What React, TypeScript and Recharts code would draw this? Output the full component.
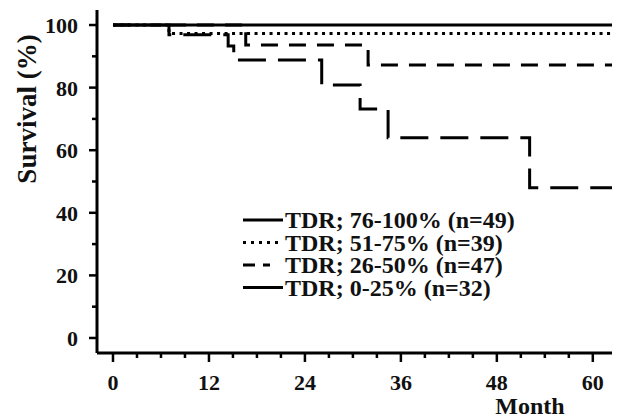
import React from 'react';
import { LineChart, Line, XAxis, YAxis, Legend } from 'recharts';

// Kaplan-Meier step data (months, survival %)
const months76 = [0, 62.4];
const surv76 = [100, 100];
const months51 = [0, 7, 62.4];
const surv51 = [100, 97.3, 97.3];
const months26 = [0, 16.6, 31.9, 62.4];
const surv26 = [100, 93.6, 87.2, 87.2];
const months0 = [0, 7, 14.4, 15.1, 26.1, 30.9, 34.4, 52.1, 62.4];
const surv0 = [100, 96.9, 93.3, 88.8, 80.8, 73.2, 64, 48, 48];

const seriesNames = [
  'TDR; 76-100% (n=49)',
  'TDR; 51-75% (n=39)',
  'TDR; 26-50% (n=47)',
  'TDR; 0-25% (n=32)',
];

const xTicks = [0, 3, 6, 9, 12, 15, 18, 21, 24, 27, 30, 33, 36, 39, 42, 45, 48, 51, 54, 57, 60];
const xMajor = [0, 12, 24, 36, 48, 60];
const yTicks = [0, 10, 20, 30, 40, 50, 60, 70, 80, 90, 100];
const yMajor = [0, 20, 40, 60, 80, 100];

const toRows = (t: number[], s: number[]) => t.map((v, i) => ({ t: v, s: s[i] }));

const FONT = 'Liberation Serif, Tinos, Times New Roman, Times, serif';

const styles = [
  { dash: undefined as string | undefined, legendDash: undefined as string | undefined, legendLen: 40 },
  { dash: '3 4.5', legendDash: '3 5', legendLen: 40 },
  { dash: '17 11', legendDash: '12 8', legendLen: 27 },
  { dash: '28 12', legendDash: undefined, legendLen: 40 },
];

const XTick = (props: any) => {
  const { x, y, payload } = props;
  const major = xMajor.includes(payload.value);
  return (
    <g>
      <line x1={x} y1={y} x2={x} y2={y + (major ? 9 : 5)} stroke="#000" strokeWidth={2.5} />
      {major && (
        <text x={x} y={y + 37} textAnchor="middle" style={{ fontFamily: FONT }} fontWeight="bold" fontSize={22} fill="#111">
          {payload.value}
        </text>
      )}
    </g>
  );
};

const YTick = (props: any) => {
  const { x, y, payload } = props;
  const major = yMajor.includes(payload.value);
  return (
    <g>
      <line x1={x - (major ? 8 : 5)} y1={y} x2={x} y2={y} stroke="#000" strokeWidth={2.5} />
      {major && (
        <text x={x - 19} y={y + 8} textAnchor="end" style={{ fontFamily: FONT }} fontWeight="bold" fontSize={22} fill="#111">
          {payload.value}
        </text>
      )}
    </g>
  );
};

const YLabel = (props: any) => {
  const vb = props.viewBox || { x: 0, y: 10 };
  const cx = vb.x + 27;
  const cy = vb.y + 99;
  return (
    <text
      x={cx}
      y={cy}
      transform={`rotate(-90 ${cx} ${cy})`}
      textAnchor="middle"
      dominantBaseline="central"
      style={{ fontFamily: FONT }}
      fontWeight="bold"
      fontSize={27}
      fill="#111"
    >
      Survival (%)
    </text>
  );
};

const XLabel = (props: any) => {
  const vb = props.viewBox || { x: 97, y: 353, width: 515 };
  return (
    <text
      x={vb.x + vb.width - 82}
      y={vb.y + 61}
      textAnchor="middle"
      style={{ fontFamily: FONT }}
      fontWeight="bold"
      fontSize={24}
      fill="#111"
    >
      Month
    </text>
  );
};

const ROW = 22.5;

const LegendContent = () => (
  <svg width={320} height={100} style={{ display: 'block', overflow: 'visible' }}>
    {seriesNames.map((name, i) => {
      const cy = 12 + i * ROW;
      return (
        <line
          key={name}
          x1={3}
          x2={3 + styles[i].legendLen}
          y1={cy}
          y2={cy}
          stroke="#000"
          strokeWidth={3}
          strokeDasharray={styles[i].legendDash}
        />
      );
    })}
    <text x={45} y={20} style={{ fontFamily: FONT }} fontWeight="bold" fontSize={24} fill="#111">
      {seriesNames.map((name, i) => (
        <tspan key={name} x={45} dy={i === 0 ? 0 : ROW}>
          {name}
        </tspan>
      ))}
    </text>
  </svg>
);

const seriesData = [
  toRows(months76, surv76),
  toRows(months51, surv51),
  toRows(months26, surv26),
  toRows(months0, surv0),
];

export default function App() {
  return (
    <div style={{ position: 'absolute', left: 0, top: 0, width: 617, height: 419, background: '#fff' }}>
      <LineChart width={617} height={419} margin={{ top: 10, right: 5, bottom: 0, left: 0 }}>
        <XAxis
          dataKey="t"
          type="number"
          domain={[-2, 62.4]}
          ticks={xTicks}
          interval={0}
          tickLine={false}
          tickSize={0}
          tickMargin={0}
          tick={<XTick />}
          axisLine={{ stroke: '#000', strokeWidth: 3 }}
          height={66}
          allowDataOverflow
          label={<XLabel />}
        />
        <YAxis
          dataKey="s"
          type="number"
          domain={[-4.8, 104.8]}
          ticks={yTicks}
          interval={0}
          tickLine={false}
          tickSize={0}
          tickMargin={0}
          tick={<YTick />}
          axisLine={{ stroke: '#000', strokeWidth: 3 }}
          width={97}
          allowDataOverflow
          label={<YLabel />}
        />
        <Legend
          layout="vertical"
          align="center"
          verticalAlign="middle"
          content={<LegendContent />}
          wrapperStyle={{ left: 240, top: 208, width: 320, height: 100 }}
        />
        {seriesData.map((d, i) => (
          <Line
            key={seriesNames[i]}
            name={seriesNames[i]}
            data={d}
            dataKey="s"
            type="stepAfter"
            stroke="#000"
            strokeWidth={3}
            strokeDasharray={styles[i].dash}
            dot={false}
            activeDot={false}
            isAnimationActive={false}
          />
        ))}
      </LineChart>
    </div>
  );
}
